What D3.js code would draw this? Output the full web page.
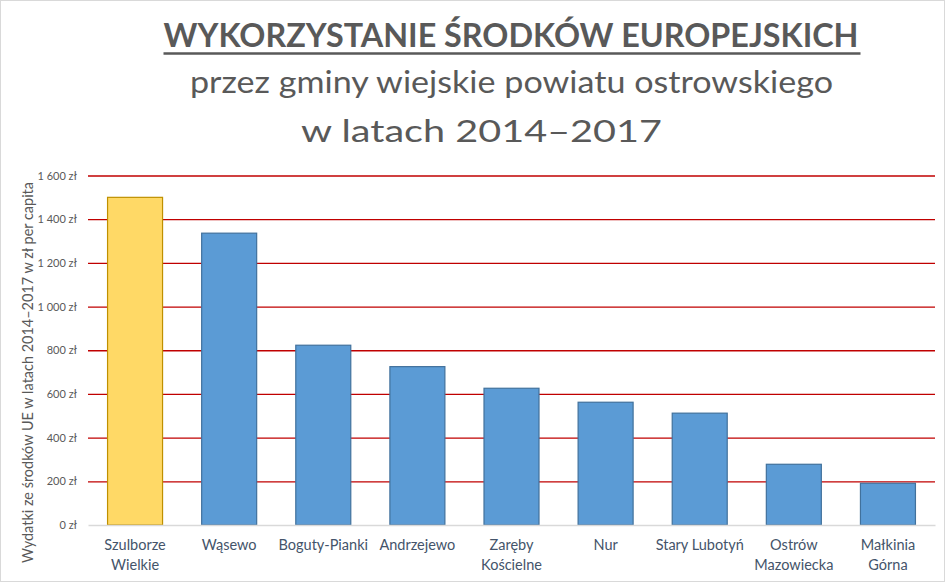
<!DOCTYPE html>
<html><head><meta charset="utf-8">
<script src="https://cdn.jsdelivr.net/npm/d3@7"></script>
<style>
html,body{margin:0;padding:0;background:#fff;}
svg{display:block;}
text{font-family:Lato,"Open Sans",sans-serif;}
</style></head>
<body>
<svg id="c" width="949" height="583"></svg>
<script>
const categories = [["Szulborze","Wielkie"],["Wąsewo"],["Boguty-Pianki"],["Andrzejewo"],["Zaręby","Kościelne"],["Nur"],["Stary Lubotyń"],["Ostrów","Mazowiecka"],["Małkinia","Górna"]];
const values = [1500, 1336, 823, 725, 626, 562, 512, 278, 191];
const highlighted = [true, false, false, false, false, false, false, false, false];
const yTicks = [0, 200, 400, 600, 800, 1000, 1200, 1400, 1600];
const titleLine = "WYKORZYSTANIE  ŚRODKÓW  EUROPEJSKICH";
const subtitleLines = ["przez gminy wiejskie powiatu ostrowskiego", "w latach 2014–2017"];
const yTitle = "Wydatki ze środków UE w latach 2014–2017 w zł per capita";

const svg = d3.select("#c");
const W = 949, H = 583;
const m = {left: 88, right: 14, top: 175.5, bottom: 58};

// chart border
svg.append("rect").attr("x",0.5).attr("y",0.5).attr("width",944).attr("height",581)
  .attr("fill","#fff").attr("stroke","#d9d9d9").attr("stroke-width",1);

const x = d3.scaleBand().domain(d3.range(categories.length))
  .range([m.left, W - m.right]).paddingInner(0.405).paddingOuter(0.2025);
const y = d3.scaleLinear().domain([0,1600]).range([H - m.bottom, m.top]);

// gridlines
const grid = svg.append("g").attr("transform",`translate(${m.left},0)`)
  .call(d3.axisLeft(y).tickValues(yTicks.filter(t=>t>0)).tickSize(-(W - m.right - m.left)).tickFormat(""));
grid.select(".domain").remove();
grid.selectAll("line").attr("stroke","#c00000").attr("stroke-width",1.3);

// y tick labels
const yAx = svg.append("g").attr("transform",`translate(${m.left},0)`)
  .call(d3.axisLeft(y).tickValues(yTicks).tickSize(0).tickPadding(11)
    .tickFormat(d => d3.format(",")(d).replace(/,/g," ") + " zł"));
yAx.select(".domain").remove();
yAx.selectAll("text").attr("fill","#595959").style("font-size","11px").style("font-family","Lato,sans-serif");

// bars
svg.append("g").selectAll("rect").data(values).join("rect")
  .attr("x",(d,i)=>x(i)+0.5).attr("width",x.bandwidth()-1)
  .attr("y",d=>y(d)).attr("height",d=>y(0)-y(d))
  .attr("fill",(d,i)=>highlighted[i] ? "#ffd966" : "#5b9bd5")
  .attr("stroke",(d,i)=>highlighted[i] ? "#bf9000" : "#41719c")
  .attr("stroke-width",1.2);

// baseline
const xAx = svg.append("g").attr("transform",`translate(0,${y(0)})`)
  .call(d3.axisBottom(x).tickSize(0).tickFormat(""));
xAx.select(".domain").attr("stroke","#d9d9d9").attr("stroke-width",1.3);

// category labels
const cl = svg.append("g").selectAll("text").data(categories).join("text")
  .attr("text-anchor","middle").attr("fill","#44546a")
  .style("font-size","14.5px")
  .attr("transform",(d,i)=>`translate(${x(i)+x.bandwidth()/2},${y(0)+25})`);
cl.selectAll("tspan").data(d=>d).join("tspan")
  .attr("x",0).attr("dy",(d,j)=>j===0?0:20).text(d=>d);

// y title
svg.append("text").attr("transform","translate(32.5,372.5) rotate(-90)")
  .attr("text-anchor","middle").attr("fill","#595959").style("font-size","14.5px")
  .attr("textLength",381).attr("lengthAdjust","spacingAndGlyphs").text(yTitle);

// titles
const t1 = svg.append("text").attr("x",511).attr("y",47.3).attr("text-anchor","middle")
  .attr("fill","#595959").style("font-size","33px").style("font-weight","bold")
  .attr("textLength",695).attr("lengthAdjust","spacingAndGlyphs").text(titleLine);
const bb = t1.node().getBBox();
svg.append("line").attr("x1",bb.x).attr("x2",bb.x+bb.width+2).attr("y1",53.5).attr("y2",53.5)
  .attr("stroke","#595959").attr("stroke-width",2.6);
svg.append("text").attr("x",511.5).attr("y",93.3).attr("text-anchor","middle")
  .attr("fill","#595959").style("font-size","31px")
  .attr("textLength",643).attr("lengthAdjust","spacingAndGlyphs").text(subtitleLines[0]);
svg.append("text").attr("x",481.5).attr("y",141.7).attr("text-anchor","middle")
  .attr("fill","#595959").style("font-size","31px")
  .attr("textLength",361).attr("lengthAdjust","spacingAndGlyphs").text(subtitleLines[1]);
</script>
</body></html>
